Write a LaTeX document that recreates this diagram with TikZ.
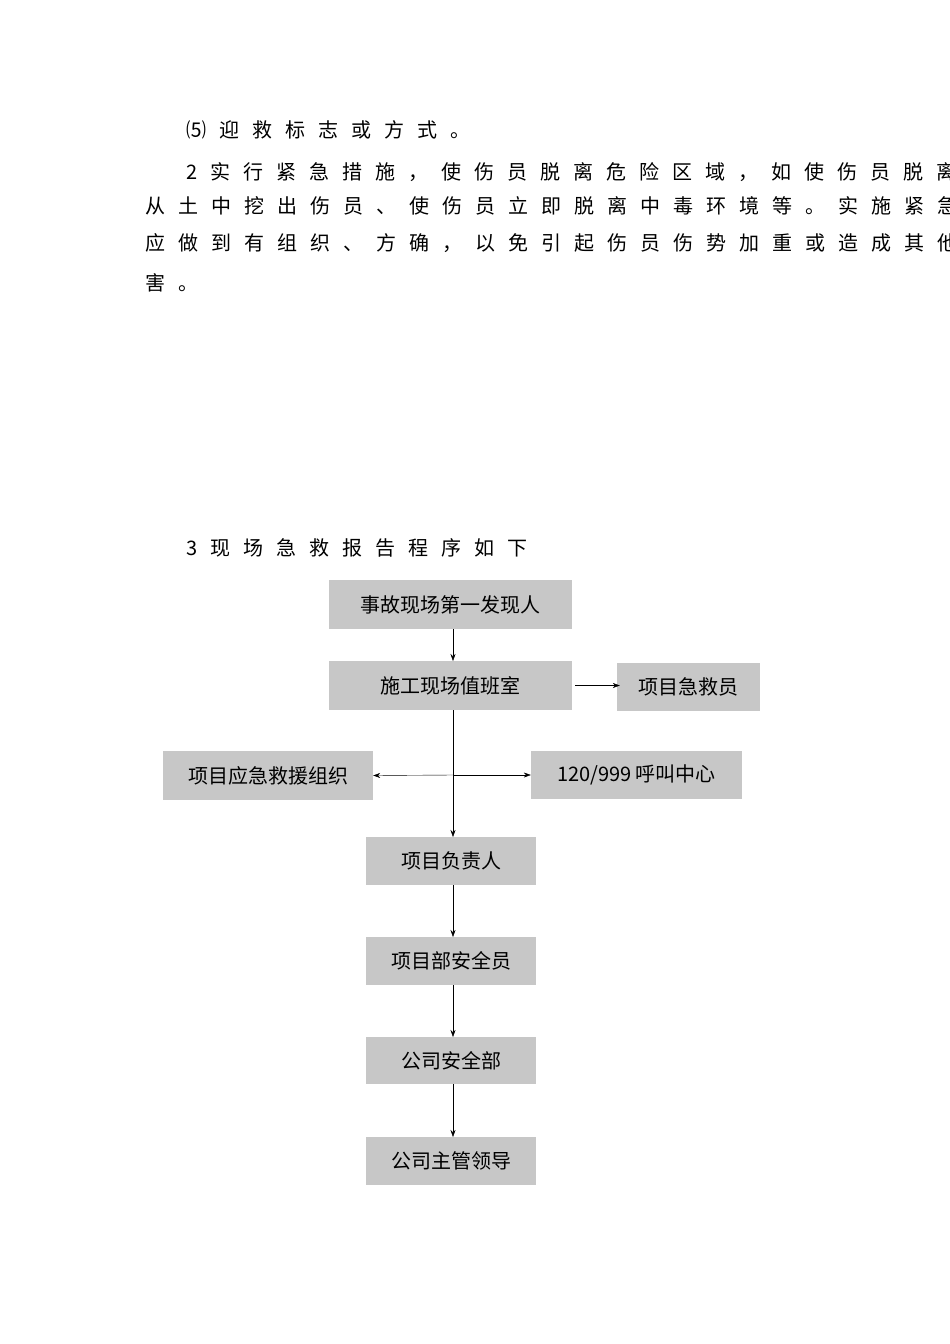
\documentclass[tikz,border=0pt]{standalone}
\usepackage{fontspec}
\newfontfamily\cjk{Noto Sans CJK SC}
\usetikzlibrary{arrows.meta}
\def\spc#1{\ifx#1\relax\else#1\hskip13pt\expandafter\spc\fi}
\begin{document}
\begin{tikzpicture}[x=1pt,y=-1pt,
  box/.style={fill=black!22,inner sep=0pt,font=\cjk\fontsize{20}{20}\selectfont},
  para/.style={anchor=west,inner sep=0pt,font=\cjk\fontsize{20}{20}\selectfont},
  arr/.style={-{Stealth[length=7pt,width=5pt]},thin}]
\useasboundingbox (0,0) rectangle (950,1344);
\node[para] (p1) at (186,130) {\spc ⑸迎救标志或方式。\relax};
\node[para] (p2) at (186,172) {\spc 2实行紧急措施，使伤员脱离危险区域，如使伤员脱离电源、\relax};
\node[para] (p3) at (145,206) {\spc 从土中挖出伤员、使伤员立即脱离中毒环境等。实施紧急措施时，\relax};
\node[para] (p4) at (145,243) {\spc 应做到有组织、方确，以免引起伤员伤势加重或造成其他人员的损\relax};
\node[para] (p5) at (145,283) {\spc 害。\relax};
\node[para] (h) at (186,548) {\spc 3现场急救报告程序如下\relax};
\node[box,minimum width=243,minimum height=49] (a) at (450.5,604.5) {事故现场第一发现人};
\node[box,minimum width=243,minimum height=49] (b) at (450.5,685.5) {施工现场值班室};
\node[box,minimum width=143,minimum height=48] (c) at (688.5,687) {项目急救员};
\node[box,minimum width=210,minimum height=49] (d) at (268,775.5) {项目应急救援组织};
\node[box,minimum width=211,minimum height=48] (e) at (636.5,775) {120/999 呼叫中心};
\node[box,minimum width=170,minimum height=48] (f) at (451,861) {项目负责人};
\node[box,minimum width=170,minimum height=48] (g) at (451,961) {项目部安全员};
\node[box,minimum width=170,minimum height=47] (i) at (451,1060.5) {公司安全部};
\node[box,minimum width=170,minimum height=48] (j) at (451,1161) {公司主管领导};
\coordinate (m) at (453,775);
\draw[arr] (453,629) -- (453,661);
\draw[arr] (453,710) -- (453,837);
\draw[arr] ([xshift=3pt]b.east) -- ([xshift=3pt]b.east -| c.west);
\draw[arr] (m) -- (d.east);
\draw[arr] (m) -- (e.west);
\draw[arr] (453,885) -- (453,937);
\draw[arr] (453,985) -- (453,1037);
\draw[arr] (453,1084) -- (453,1137);
\end{tikzpicture}
\end{document}
